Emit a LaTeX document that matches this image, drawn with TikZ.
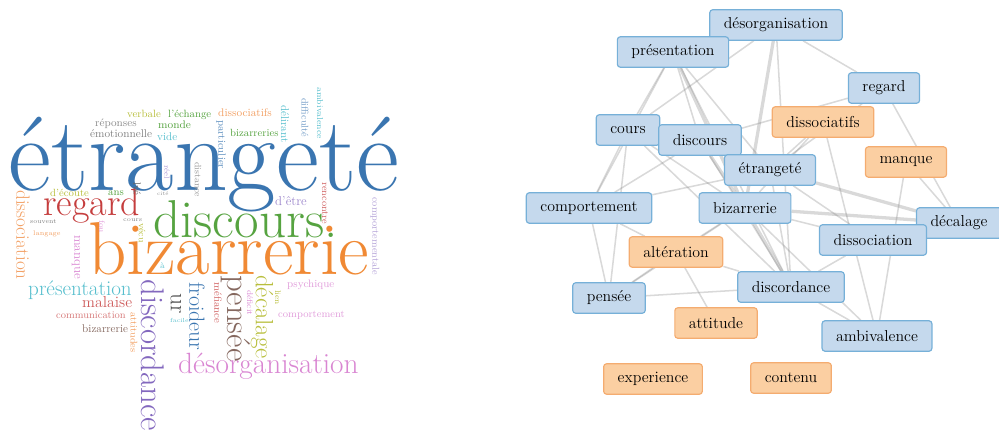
\documentclass[tikz,border=0pt]{standalone}
\usepackage{tikz}
\usetikzlibrary{positioning,backgrounds}

\definecolor{netblue}{RGB}{197,217,237}
\definecolor{netblueline}{RGB}{118,176,216}
\definecolor{netorange}{RGB}{251,207,162}
\definecolor{netorangeline}{RGB}{244,172,112}
\definecolor{wblue}{RGB}{58,117,176}
\definecolor{worange}{RGB}{240,137,52}
\definecolor{wgreen}{RGB}{86,163,64}
\definecolor{wred}{RGB}{197,62,62}
\definecolor{wpurple}{RGB}{131,104,190}
\definecolor{wpink}{RGB}{217,134,210}
\definecolor{wbrown}{RGB}{133,104,95}
\definecolor{wolive}{RGB}{184,190,60}
\definecolor{wcyan}{RGB}{86,190,205}
\definecolor{wlightorange}{RGB}{242,160,100}

\newcommand{\fs}[1]{\fontsize{#1}{#1}\selectfont}

\begin{document}
\begin{tikzpicture}[
        x=0.03cm, y=-0.03cm,
        word/.style={inner sep=0pt, anchor=base west},
        vword/.style={inner sep=0pt, anchor=west, rotate=-90},
        term/.style={rectangle, rounded corners=2.5pt, draw=netblueline, line width=1pt, fill=netblue, font=\fs{13.5}, inner xsep=12pt, inner ysep=0pt, minimum height=26pt},
        oterm/.style={term, draw=netorangeline, fill=netorange},
        link/.style={draw=black!50, opacity=0.3, line width=1.3pt},
        heavylink/.style={link, line width=2.8pt}
    ]
        \useasboundingbox (0,0) rectangle (999,441);

        % word cloud
        \node[word, text=wblue, font=\fs{90}] (w-etrangete) at (8,190) {étrangeté};
        \node[word, text=worange, font=\fs{64}] (w-bizarrerie) at (88,274) {bizarrerie};
        \node[word, text=wgreen, font=\fs{45.5}] (w-discours) at (153,237) {discours.};
        \node[word, text=wred, font=\fs{32.5}] (w-regard) at (43,215) {regard};
        \node[vword, text=wpurple, font=\fs{28}] (w-discordance) at (153,279) {discordance};
        \node[word, text=wpink, font=\fs{25}] (w-desorg) at (178,373) {désorganisation};
        \node[vword, text=wbrown, font=\fs{28}] (w-pensee) at (236,275) {pensée};
        \node[vword, text=wolive, font=\fs{21.3}] (w-decalage) at (262,275) {décalage};
        \node[vword, text=wblue, font=\fs{18.7}] (w-froideur) at (197,282) {froideur};
        \node[vword, text=black!70, font=\fs{20}] (w-ur) at (176,293) {ur};
        \node[word, text=wcyan, font=\fs{18}] (w-presentation) at (28,295) {présentation};
        \node[vword, text=wlightorange, font=\fs{16.4}] (w-dissociation) at (23,190) {dissociation};
        \node[word, text=wred!85, font=\fs{13.5}] (w-malaise) at (82,307) {malaise};
        \node[word, text=wred!70, font=\fs{8.7}] (w-communication) at (56,318) {communication};
        \node[word, text=wbrown, font=\fs{9.5}] (w-bizsmall) at (82,332) {bizarrerie};
        \node[vword, text=wlightorange, font=\fs{8.3}] (w-attitudes) at (134,312) {attitudes};
        \node[word, text=wcyan, font=\fs{5}] (w-facile) at (170,322) {facile};
        \node[word, text=wcyan, font=\fs{7}] (w-a) at (160,268) {à};
        \node[vword, text=wpink, font=\fs{11.2}] (w-manque) at (76,235) {manque};
        \node[word, text=wgreen, font=\fs{9}] (w-ans) at (108,195) {ans};
        \node[word, text=wolive, font=\fs{8.9}] (w-ecoute) at (50,196) {d'écoute};
        \node[vword, text=black!60, font=\fs{9}] (w-lve) at (137,182) {lvé};
        \node[word, text=black!45, font=\fs{4.5}] (w-cite) at (157,195) {cité};
        \node[word, text=black!50, font=\fs{5.5}] (w-souvent) at (30,223) {souvent};
        \node[word, text=wlightorange, font=\fs{5.8}] (w-langage) at (33,235) {langage};
        \node[word, text=black!50, font=\fs{5.2}] (w-cours) at (123,221) {cours};
        \node[vword, text=wpink!80, font=\fs{7}] (w-fou) at (102,220) {fou};
        \node[vword, text=wolive, font=\fs{8}] (w-vecu) at (142,223) {vécu};
        \node[word, text=wolive, font=\fs{9}] (w-verbale) at (127,117) {verbale};
        \node[word, text=wgreen, font=\fs{9}] (w-echange) at (168,117) {l'échange};
        \node[word, text=wlightorange, font=\fs{9.4}] (w-dissociatifs) at (218,116) {dissociatifs};
        \node[word, text=black!45, font=\fs{9.3}] (w-reponses) at (95,126) {réponses};
        \node[word, text=wgreen, font=\fs{9.4}] (w-monde) at (158,128) {monde};
        \node[word, text=black!50, font=\fs{9.6}] (w-emotionnelle) at (90,137) {émotionnelle};
        \node[word, text=wcyan, font=\fs{9.5}] (w-vide) at (157,140) {vide};
        \node[vword, text=wblue!80, font=\fs{9}] (w-particulier) at (221,120) {particulier};
        \node[word, text=wgreen, font=\fs{8.9}] (w-bizarreries) at (230,136) {bizarreries};
        \node[vword, text=wcyan, font=\fs{9.5}] (w-delirant) at (285,105) {délirant};
        \node[vword, text=wblue!70, font=\fs{8.3}] (w-difficulte) at (305,98) {difficulté};
        \node[vword, text=wcyan, font=\fs{7.3}] (w-ambivalence) at (320,87) {ambivalence};
        \node[vword, text=black!40, font=\fs{7.9}] (w-distance) at (198,162) {distance};
        \node[vword, text=wpurple!70, font=\fs{6.5}] (w-reel) at (167,165) {réel};
        \node[word, text=wpurple!80, font=\fs{11}] (w-detre) at (275,205) {d'être};
        \node[vword, text=wred!80, font=\fs{8.3}] (w-rencontre) at (325,182) {rencontre};
        \node[vword, text=wpurple!60, font=\fs{8.6}] (w-comportementale) at (375,197) {comportementale};
        \node[word, text=wpink!80, font=\fs{9.2}] (w-psychique) at (287,287) {psychique};
        \node[word, text=wpink!80, font=\fs{8.8}] (w-comportement) at (278,317) {comportement};
        \node[vword, text=wolive, font=\fs{7}] (w-lien) at (278,290) {lien};
        \node[vword, text=wpink, font=\fs{7}] (w-deficit) at (250,290) {déficit};
        \node[vword, text=wred!80, font=\fs{9}] (w-mefiance) at (218,282) {méfiance};

        % network
        \node[term] (desorg) at (776,25) {désorganisation};
        \node[term] (present) at (673,52) {présentation};
        \node[term] (regard) at (884,88) {regard};
        \node[oterm] (dissocf) at (823,122) {dissociatifs};
        \node[term] (cours) at (628,130) {cours};
        \node[term] (discours) at (700,140) {discours};
        \node[oterm] (manque) at (906,162) {manque};
        \node[term] (etrange) at (770,170) {étrangeté};
        \node[term] (comport) at (589,208) {comportement};
        \node[term] (bizarre) at (745,208) {bizarrerie};
        \node[term] (decalage) at (959,223) {décalage};
        \node[term] (dissocn) at (873,240) {dissociation};
        \node[oterm] (alter) at (676,252) {altération};
        \node[term] (discord) at (791,287) {discordance};
        \node[term] (pensee) at (609,298) {pensée};
        \node[oterm] (attitude) at (716,323) {attitude};
        \node[term] (ambival) at (877,336) {ambivalence};
        \node[oterm] (experience) at (653,379) {experience};
        \node[oterm] (contenu) at (791,378) {contenu};

        \begin{scope}[on background layer]
            \draw[link] (present) -- (cours);
            \draw[link] (present) -- (comport);
            \draw[link] (present) -- (discours);
            \draw[heavylink] (present) -- (bizarre);
            \draw[link] (present) -- (discord);
            \draw[link] (present) -- (etrange);
            \draw[link] (desorg) -- (cours);
            \draw[heavylink] (desorg) -- (bizarre);
            \draw[link] (desorg) -- (discord);
            \draw[link] (desorg) -- (regard);
            \draw[link] (regard) -- (discours);
            \draw[link] (regard) -- (etrange);
            \draw[link] (regard) -- (decalage);
            \draw[link] (dissocf) -- (ambival);
            \draw[link] (dissocf) -- (etrange);
            \draw[link] (dissocf) -- (bizarre);
            \draw[link] (manque) -- (ambival);
            \draw[link] (manque) -- (decalage);
            \draw[heavylink] (etrange) -- (decalage);
            \draw[heavylink] (bizarre) -- (decalage);
            \draw[link] (bizarre) -- (dissocn);
            \draw[link] (etrange) -- (dissocn);
            \draw[link] (cours) -- (comport);
            \draw[link] (cours) -- (pensee);
            \draw[link] (cours) -- (discord);
            \draw[link] (cours) -- (bizarre);
            \draw[link] (comport) -- (pensee);
            \draw[link] (comport) -- (alter);
            \draw[link] (comport) -- (etrange);
            \draw[link] (comport) -- (discours);
            \draw[link] (bizarre) -- (alter);
            \draw[link] (bizarre) -- (pensee);
            \draw[heavylink] (bizarre) -- (discord);
            \draw[link] (pensee) -- (alter);
            \draw[link] (pensee) -- (discord);
            \draw[link] (alter) -- (attitude);
            \draw[link] (alter) -- (discord);
            \draw[link] (discord) -- (ambival);
            \draw[link] (discord) -- (dissocn);
            \draw[link] (bizarre) -- (ambival);
            \draw[heavylink] (discours) -- (bizarre);
            \draw[link] (discours) -- (discord);
            \draw[link] (etrange) -- (discord);
        \end{scope}
    \end{tikzpicture}
\end{document}
